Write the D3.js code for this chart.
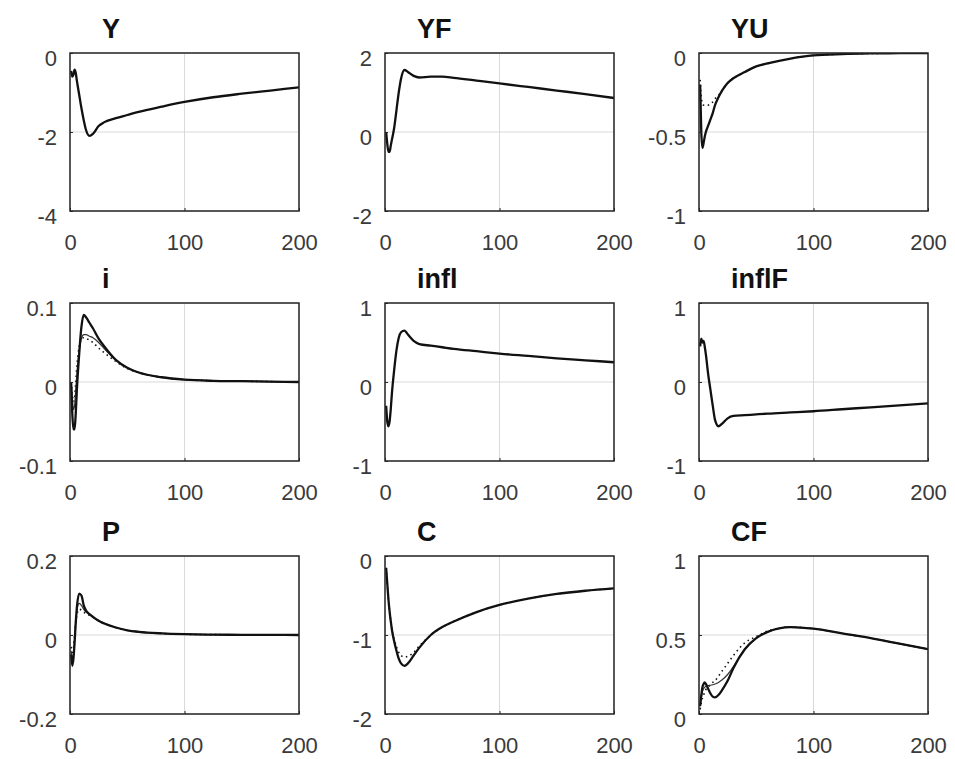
<!DOCTYPE html>
<html>
<head>
<meta charset="utf-8">
<script src="https://cdn.jsdelivr.net/npm/d3@7"></script>
<style>
  body { margin: 0; background: #fff; }
  svg { display: block; }
</style>
</head>
<body>
<div id="fig"></div>
<script>
var periods = [1, 2, 3, 4, 5, 6, 8, 10, 12, 14, 17, 20, 25, 30, 40, 50, 60, 80, 100, 125, 150, 175, 200];

var titles = ["Y", "YF", "YU", "i", "infl", "inflF", "P", "C", "CF"];
var yDomains = [[-4, 0], [-2, 2], [-1, 0], [-0.1, 0.1], [-1, 1], [-1, 1], [-0.2, 0.2], [-2, 0], [0, 1]];
var yTickVals = [[-4, -2, 0], [-2, 0, 2], [-1, -0.5, 0], [-0.1, 0, 0.1], [-1, 0, 1], [-1, 0, 1], [-0.2, 0, 0.2], [-2, -1, 0], [0, 0.5, 1]];
var xTickVals = [0, 100, 200];

// main responses (thick solid)
var Y_main = [-0.45, -0.6, -0.55, -0.42, -0.5, -0.7, -1.05, -1.4, -1.7, -1.95, -2.1, -2.05, -1.85, -1.75, -1.65, -1.57, -1.49, -1.36, -1.24, -1.12, -1.03, -0.95, -0.87];
var YF_main = [0, -0.3, -0.5, -0.5, -0.35, -0.2, 0.1, 0.55, 1.0, 1.35, 1.57, 1.52, 1.42, 1.38, 1.4, 1.4, 1.37, 1.3, 1.23, 1.14, 1.05, 0.96, 0.86];
var YU_main = [-0.2, -0.5, -0.6, -0.57, -0.53, -0.5, -0.46, -0.42, -0.38, -0.33, -0.28, -0.24, -0.19, -0.16, -0.12, -0.085, -0.066, -0.035, -0.015, -0.007, -0.003, -0.001, 0];
var i_main = [0, -0.04, -0.06, -0.06, -0.04, -0.01, 0.035, 0.07, 0.085, 0.082, 0.075, 0.068, 0.055, 0.045, 0.028, 0.018, 0.012, 0.006, 0.003, 0.0015, 0.001, 0.0005, 0];
var infl_main = [-0.3, -0.5, -0.56, -0.5, -0.35, -0.15, 0.15, 0.4, 0.56, 0.63, 0.65, 0.6, 0.52, 0.48, 0.46, 0.44, 0.42, 0.39, 0.36, 0.33, 0.3, 0.275, 0.25];
var inflF_main = [0.45, 0.55, 0.5, 0.52, 0.45, 0.35, 0.1, -0.1, -0.3, -0.48, -0.56, -0.53, -0.46, -0.43, -0.42, -0.41, -0.4, -0.385, -0.37, -0.345, -0.32, -0.295, -0.27];
var P_main = [-0.05, -0.078, -0.06, -0.02, 0.03, 0.07, 0.105, 0.1, 0.075, 0.062, 0.053, 0.046, 0.036, 0.029, 0.019, 0.012, 0.008, 0.004, 0.002, 0.001, 0.0005, 0.0002, 0];
var C_main = [-0.15, -0.35, -0.55, -0.7, -0.82, -0.93, -1.08, -1.2, -1.3, -1.36, -1.39, -1.36, -1.26, -1.16, -1.0, -0.9, -0.83, -0.71, -0.62, -0.54, -0.48, -0.44, -0.41];
var CF_main = [0.05, 0.12, 0.17, 0.19, 0.2, 0.19, 0.16, 0.13, 0.11, 0.105, 0.12, 0.15, 0.21, 0.29, 0.41, 0.48, 0.52, 0.55, 0.54, 0.51, 0.48, 0.445, 0.41];

// second response (thin solid)
var i_thin = [0, -0.02, -0.035, -0.03, -0.01, 0.01, 0.04, 0.055, 0.06, 0.06, 0.058, 0.056, 0.05, 0.042, 0.028, 0.018, 0.012, 0.006, 0.003, 0.0015, 0.001, 0.0005, 0];
var P_thin = [-0.04, -0.06, -0.05, -0.01, 0.035, 0.06, 0.08, 0.075, 0.065, 0.058, 0.052, 0.046, 0.036, 0.029, 0.019, 0.012, 0.008, 0.004, 0.002, 0.001, 0.0005, 0.0002, 0];
var CF_thin = [0.05, 0.1, 0.14, 0.16, 0.17, 0.175, 0.18, 0.182, 0.185, 0.19, 0.2, 0.215, 0.25, 0.3, 0.41, 0.48, 0.52, 0.55, 0.54, 0.51, 0.48, 0.445, 0.41];

// third response (dotted)
var YU_dot = [-0.17, -0.28, -0.32, -0.33, -0.33, -0.33, -0.33, -0.32, -0.31, -0.29, -0.27, -0.24, -0.19, -0.16, -0.12, -0.085, -0.066, -0.035, -0.015, -0.007, -0.003, -0.001, 0];
var i_dot = [0, -0.015, -0.025, -0.02, 0, 0.02, 0.045, 0.055, 0.056, 0.055, 0.053, 0.05, 0.043, 0.037, 0.026, 0.017, 0.012, 0.006, 0.003, 0.0015, 0.001, 0.0005, 0];
var P_dot = [-0.03, -0.05, -0.035, 0, 0.03, 0.05, 0.065, 0.063, 0.058, 0.054, 0.05, 0.045, 0.036, 0.029, 0.019, 0.012, 0.008, 0.004, 0.002, 0.001, 0.0005, 0.0002, 0];
var C_dot = [-0.15, -0.35, -0.55, -0.7, -0.82, -0.92, -1.05, -1.15, -1.22, -1.26, -1.28, -1.27, -1.22, -1.14, -1.0, -0.9, -0.83, -0.71, -0.62, -0.54, -0.48, -0.44, -0.41];
var CF_dot = [0.03, 0.07, 0.1, 0.12, 0.14, 0.155, 0.17, 0.185, 0.2, 0.21, 0.24, 0.27, 0.32, 0.37, 0.45, 0.49, 0.525, 0.55, 0.54, 0.51, 0.48, 0.445, 0.41];

var mainSeries = [Y_main, YF_main, YU_main, i_main, infl_main, inflF_main, P_main, C_main, CF_main];
var thinSeries = [null, null, null, i_thin, null, null, P_thin, null, CF_thin];
var dotSeries = [null, null, YU_dot, i_dot, null, null, P_dot, C_dot, CF_dot];

// layout
var W = 955, H = 759;
var colLeft = [70, 385, 699], rowTop = [53, 303, 556];
var pw = 229, ph = 158;
var fontStack = "Arial, 'Liberation Sans', Helvetica, sans-serif";

var svg = d3.select("#fig").append("svg")
  .attr("width", W)
  .attr("height", H)
  .style("font-family", fontStack);

var x = d3.scaleLinear().domain([0, 200]).range([0, pw]);

titles.forEach(function (title, k) {
  var g = svg.append("g")
    .attr("transform", "translate(" + colLeft[k % 3] + "," + rowTop[Math.floor(k / 3)] + ")");
  var y = d3.scaleLinear().domain(yDomains[k]).range([ph, 0]);

  // grid lines
  g.append("g").selectAll("line").data(xTickVals).enter().append("line")
    .attr("x1", function (d) { return x(d); }).attr("x2", function (d) { return x(d); })
    .attr("y1", 0).attr("y2", ph)
    .attr("stroke", "#d9d9d9").attr("stroke-width", 1);
  g.append("g").selectAll("line").data(yTickVals[k]).enter().append("line")
    .attr("y1", function (d) { return y(d); }).attr("y2", function (d) { return y(d); })
    .attr("x1", 0).attr("x2", pw)
    .attr("stroke", "#d9d9d9").attr("stroke-width", 1);

  // clip so lines stay inside the box
  var clipId = "clip" + k;
  g.append("clipPath").attr("id", clipId).append("rect")
    .attr("width", pw).attr("height", ph);

  var line = d3.line()
    .x(function (d, j) { return x(periods[j]); })
    .y(function (d) { return y(d); })
    .curve(d3.curveMonotoneX);

  var lines = g.append("g").attr("clip-path", "url(#" + clipId + ")");
  if (dotSeries[k]) {
    lines.append("path").datum(dotSeries[k])
      .attr("d", line).attr("fill", "none")
      .attr("stroke", "#111").attr("stroke-width", 1.6)
      .attr("stroke-dasharray", "1.5,3.5");
  }
  if (thinSeries[k]) {
    lines.append("path").datum(thinSeries[k])
      .attr("d", line).attr("fill", "none")
      .attr("stroke", "#333").attr("stroke-width", 1.2);
  }
  lines.append("path").datum(mainSeries[k])
    .attr("d", line).attr("fill", "none")
    .attr("stroke", "#111").attr("stroke-width", 2.3);

  // axes with labels
  var xAxis = g.append("g")
    .attr("transform", "translate(0," + ph + ")")
    .call(d3.axisBottom(x).tickValues(xTickVals).tickSize(-3).tickPadding(23).tickFormat(d3.format("d")));
  var yAxis = g.append("g")
    .call(d3.axisLeft(y).tickValues(yTickVals[k]).tickSize(-3).tickPadding(13)
      .tickFormat(function (d) { return String(+d.toFixed(2)); }));

  [xAxis, yAxis].forEach(function (a) {
    a.select(".domain").remove();
    a.selectAll(".tick line").attr("stroke", "#262626");
    a.selectAll("text")
      .attr("fill", "#3a3a3a")
      .attr("font-size", "22px")
      .style("font-family", fontStack);
  });
  yAxis.selectAll("text").attr("dy", "0.55em");

  // box
  g.append("rect")
    .attr("width", pw).attr("height", ph)
    .attr("fill", "none")
    .attr("stroke", "#262626").attr("stroke-width", 1.5);

  // title
  g.append("text")
    .attr("x", 32).attr("y", -15)
    .attr("font-size", "27px").attr("font-weight", "bold")
    .attr("fill", "#111")
    .text(title);
});
</script>
</body>
</html>
